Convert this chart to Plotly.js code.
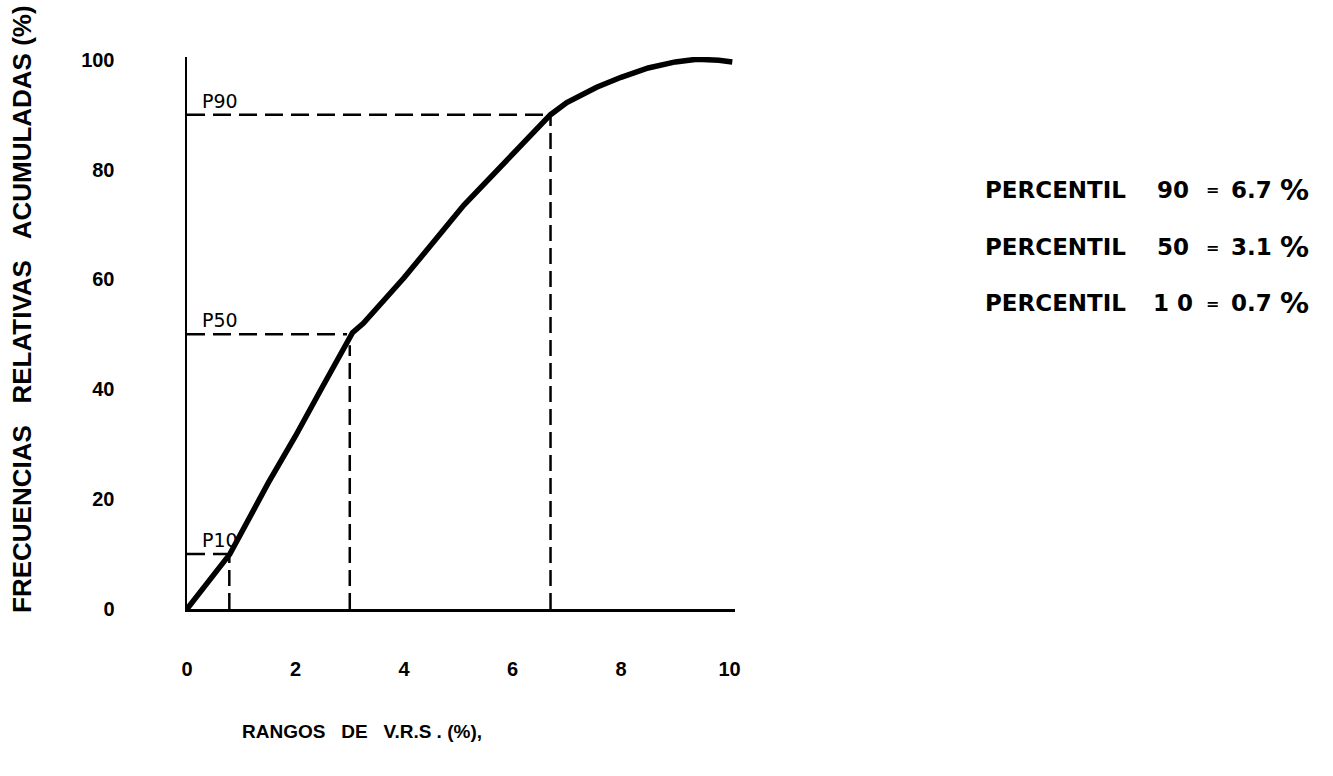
<!DOCTYPE html>
<html><head><meta charset="utf-8">
<script src="https://cdn.plot.ly/plotly-3.0.1.min.js"></script>
<style>html,body{margin:0;padding:0;background:#fff}#chart{width:1333px;height:776px}</style>
</head><body><div id="chart"></div>
<script>
// cumulative relative frequency curve
const curveX = [0, 0.4, 0.79, 1.5, 2.0, 2.5, 2.9, 3.05, 3.25, 4.0, 5.1, 6.1, 6.7, 7.0, 7.55, 8.0, 8.5, 9.0, 9.4, 9.8, 10.05];
const curveY = [0, 5.2, 10, 23, 31.5, 40.5, 48, 50.3, 52, 60.3, 73.5, 83.6, 90, 92.2, 95, 96.8, 98.5, 99.6, 100.1, 99.9, 99.6];
// percentiles
const pctNames = ['P10', 'P50', 'P90'];
const pctLevels = [10, 50, 90];
const pctX = [0.78, 3.0, 6.7];
const pctHorizEnd = [0.88, 2.95, 6.7];
const pctVertTop = [10, 48, 90];
// summary text
const summaryPct = ['90', '50', '1 0'];
const summaryVal = ['6.7', '3.1', '0.7'];
// axes
const xTicks = [0, 2, 4, 6, 8, 10];
const yTicks = [0, 20, 40, 60, 80, 100];
const xTitle = 'RANGOS\u00A0\u00A0 DE\u00A0\u00A0 V.R.S . (%),';
const yTitle = 'FRECUENCIAS\u00A0\u00A0 RELATIVAS\u00A0\u00A0 ACUMULADAS (%)';

const FONT = 'Liberation Sans, Arial, sans-serif';
const FONT2 = 'DejaVu Sans, Verdana, sans-serif';
const L = 187, R = 598, T = 57, B = 167, W = 1333, H = 776;
const plotW = W - L - R, plotH = H - T - B;
const px = v => (v - L) / plotW;
const py = v => (H - B - v) / plotH;

const traces = [];
traces.push({x: curveX, y: curveY, mode: 'lines', line: {color: '#000', width: 5.5}, hoverinfo: 'skip', cliponaxis: false});
for (let i = 0; i < pctNames.length; i++) {
  traces.push({x: [0, pctHorizEnd[i]], y: [pctLevels[i], pctLevels[i]], mode: 'lines',
    line: {color: '#000', width: 2.5, dash: '18px,8px'}, hoverinfo: 'skip'});
  traces.push({x: [pctX[i], pctX[i]], y: [0, pctVertTop[i]], mode: 'lines',
    line: {color: '#000', width: 2.5, dash: '16px,7px'}, hoverinfo: 'skip'});
}

const bold = (size, fam) => ({family: fam || FONT, size: size, color: '#000', weight: 'bold'});
const annotations = [];
for (let i = 0; i < pctNames.length; i++) {
  annotations.push({x: 0.24, y: pctLevels[i], xref: 'x', yref: 'y', text: pctNames[i], showarrow: false,
    xanchor: 'left', yanchor: 'bottom', yshift: 1, font: {family: FONT2, size: 19, color: '#000'}});
}
const rowY = [190, 247, 303];
for (let i = 0; i < summaryPct.length; i++) {
  const yy = py(rowY[i]);
  annotations.push({x: px(983), y: yy, xref: 'paper', yref: 'paper', showarrow: false, text: 'PERCENTIL',
    xanchor: 'left', yanchor: 'middle', font: bold(23, FONT2)});
  annotations.push({x: px(1173), y: yy, xref: 'paper', yref: 'paper', showarrow: false, text: summaryPct[i],
    xanchor: 'center', yanchor: 'middle', font: bold(23, FONT2)});
  annotations.push({x: px(1212), y: yy, xref: 'paper', yref: 'paper', showarrow: false, text: '=',
    xanchor: 'center', yanchor: 'middle', font: bold(16, FONT2)});
  annotations.push({x: px(1251), y: yy, xref: 'paper', yref: 'paper', showarrow: false, text: summaryVal[i],
    xanchor: 'center', yanchor: 'middle', font: bold(23, FONT2)});
  annotations.push({x: px(1294), y: yy, xref: 'paper', yref: 'paper', showarrow: false, text: '%',
    xanchor: 'center', yanchor: 'middle', font: bold(29, FONT2)});
}
annotations.push({xref: 'paper', yref: 'paper', x: px(362), y: py(731),
  text: xTitle, showarrow: false, xanchor: 'center', yanchor: 'middle', font: bold(19)});
annotations.push({xref: 'paper', yref: 'paper', x: px(22), y: py(309),
  text: yTitle, textangle: -90, showarrow: false, xanchor: 'center', yanchor: 'middle', font: bold(26)});

const layout = {
  width: W, height: H,
  margin: {l: L, r: R, t: T, b: B},
  paper_bgcolor: '#fff', plot_bgcolor: '#fff',
  showlegend: false,
  xaxis: {range: [0, 10.1], showline: true, linecolor: '#000', linewidth: 2.5, showgrid: false, zeroline: false,
    ticks: '', tickvals: xTicks, ticklabelstandoff: 40, tickfont: bold(20)},
  yaxis: {range: [0, 100.5], showline: true, linecolor: '#000', linewidth: 2.5, showgrid: false, zeroline: false,
    ticks: '', tickvals: yTicks, ticklabelstandoff: 66, tickfont: bold(20)},
  annotations: annotations
};

Plotly.newPlot('chart', traces, layout, {displayModeBar: false, staticPlot: true});
</script>
</body></html>
